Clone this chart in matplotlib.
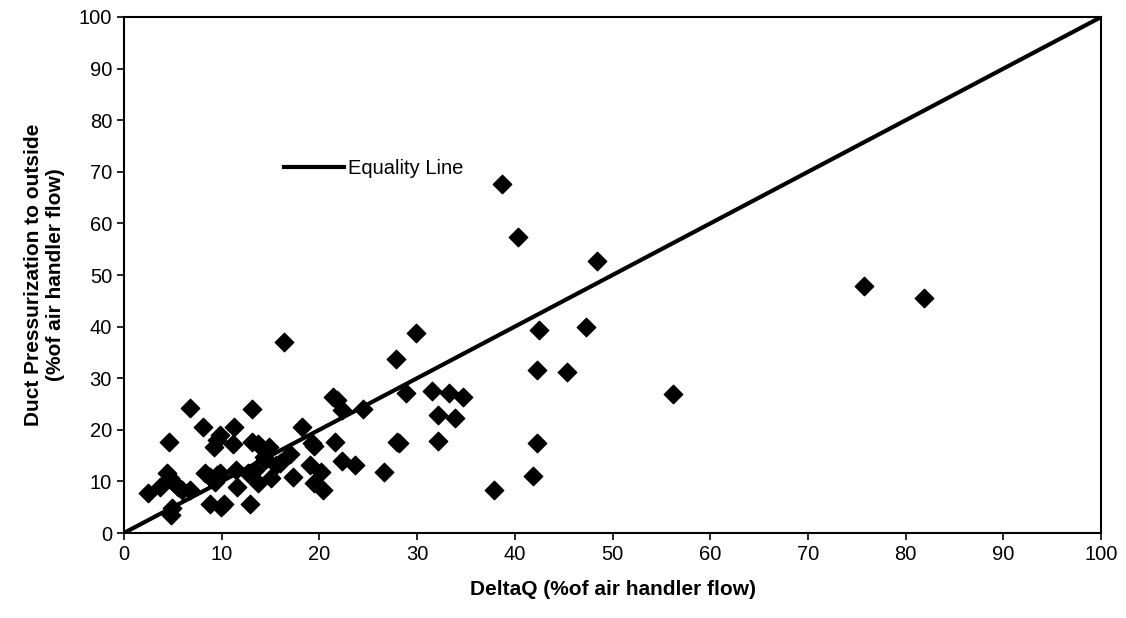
import numpy as np
import matplotlib.pyplot as plt

plt.rcParams['font.family'] = ['Liberation Sans', 'DejaVu Sans']

# DeltaQ (% of air handler flow)
deltaq = [16.4, 6.75, 13.1, 21.4, 21.8, 22.3, 24.5, 8.1, 11.3, 18.2,
          4.6, 9.8, 9.5, 9.2, 11.2, 13.1, 13.7, 14.9, 14.3, 14.4,
          17.0, 19.2, 19.5, 21.6, 22.3, 23.6, 15.6, 16.0, 4.4, 4.7,
          5.0, 5.5, 5.9, 6.8, 3.7, 2.5, 4.9, 4.8, 8.3, 8.8,
          9.5, 9.8, 9.3, 11.5, 12.7, 13.4, 13.7, 15.1, 11.6, 8.8,
          10.2, 9.9, 12.9, 17.3, 19.0, 20.2, 19.5, 20.4, 38.7, 40.3,
          29.9, 27.8, 42.5, 42.3, 42.3, 28.9, 31.5, 33.3, 34.7, 32.1,
          33.9, 32.1, 27.9, 28.2, 26.6, 48.4, 47.3, 45.3, 56.2, 75.7,
          81.9, 41.9, 37.9]
# Duct pressurization to outside (% of air handler flow)
duct_press = [37.1, 24.3, 24.0, 26.4, 25.8, 23.8, 24.0, 20.6, 20.6, 20.6,
              17.7, 19.0, 18.0, 16.6, 17.2, 17.7, 17.2, 16.6, 14.8, 14.1,
              15.4, 17.4, 16.8, 17.7, 14.0, 13.2, 13.2, 13.5, 11.6, 10.6,
              9.9, 9.0, 8.3, 8.3, 8.9, 7.7, 4.8, 3.5, 11.6, 10.9,
              11.2, 11.6, 9.9, 12.2, 11.6, 12.2, 9.6, 10.6, 8.9, 5.6,
              5.7, 5.0, 5.6, 10.9, 13.2, 11.9, 9.6, 8.3, 67.6, 57.3,
              38.8, 33.7, 39.3, 31.6, 17.4, 27.1, 27.6, 27.2, 26.3, 22.9,
              22.2, 17.9, 17.7, 17.5, 11.9, 52.7, 39.9, 31.3, 26.9, 47.9,
              45.6, 11.0, 8.3]

equality = [0, 100]

fig = plt.figure(figsize=(11.26, 6.18), dpi=100)
ax = fig.add_axes([0.110, 0.1375, 0.868, 0.835])

ax.scatter(deltaq, duct_press, marker='D', s=88, color='black', zorder=3)
ax.plot(equality, equality, color='black', lw=3, label='Equality Line', zorder=2)

ax.set_xlim(0, 100)
ax.set_ylim(0, 100)
ax.set_xticks(np.arange(0, 101, 10))
ax.set_yticks(np.arange(0, 101, 10))
ax.tick_params(direction='out', length=5, width=1.2, labelsize=14.5, colors='black')
for sp in ax.spines.values():
    sp.set_linewidth(1.5)

ax.set_xlabel('DeltaQ (%of air handler flow)', fontsize=15, fontweight='bold', labelpad=12)
ax.set_ylabel('Duct Pressurization to outside\n(%of air handler flow)', fontsize=15,
              fontweight='bold', labelpad=10)

ax.legend(loc='upper left', bbox_to_anchor=(0.145, 0.76), frameon=False, fontsize=14.5,
          handlelength=3.0, handletextpad=0.2)

fig.savefig('out.png', dpi=100)
